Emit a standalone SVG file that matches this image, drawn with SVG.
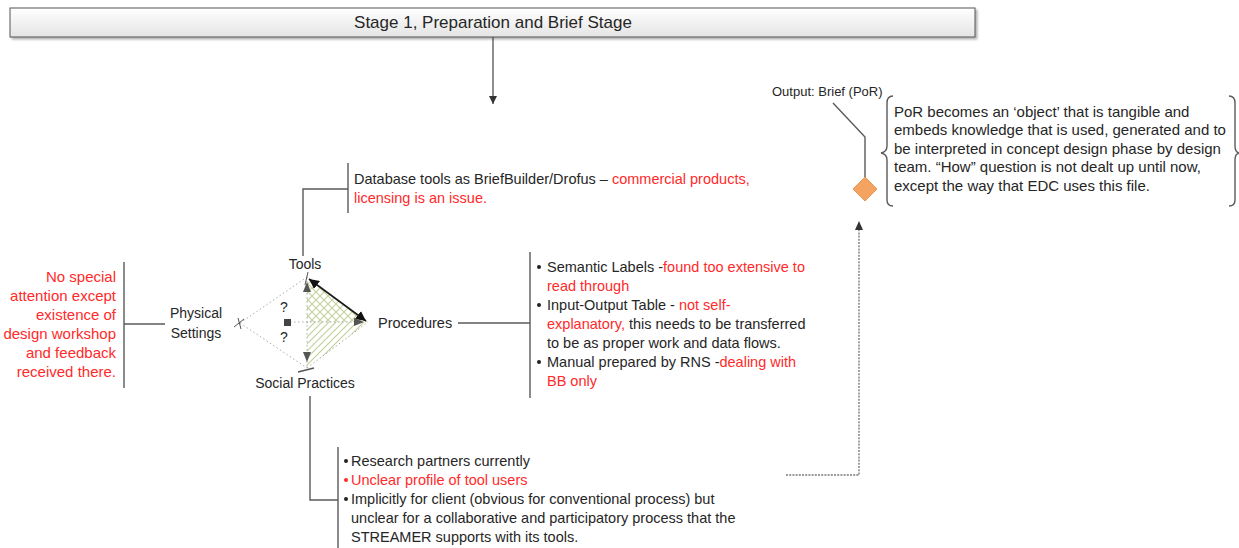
<svg xmlns="http://www.w3.org/2000/svg" width="1239" height="548" viewBox="0 0 1239 548">
<defs>
<linearGradient id="tg" x1="0" y1="0" x2="0" y2="1">
<stop offset="0" stop-color="#ffffff"/>
<stop offset="1" stop-color="#e4e4e4"/>
</linearGradient>
<marker id="ah" viewBox="0 0 10 10" refX="10" refY="5" markerWidth="8" markerHeight="8" markerUnits="userSpaceOnUse" orient="auto">
<path d="M0,0 L10,5 L0,10 Z" fill="#333"/>
</marker>
<marker id="ahb" viewBox="0 0 10 10" refX="10" refY="5" markerWidth="10" markerHeight="10" markerUnits="userSpaceOnUse" orient="auto-start-reverse">
<path d="M0,0 L10,5 L0,10 Z" fill="#111"/>
</marker>
<pattern id="cross" patternUnits="userSpaceOnUse" width="8" height="8">
<path d="M0,0 L8,8 M8,0 L0,8" stroke="#c2d19a" stroke-width="1.1"/>
</pattern>
<pattern id="diag" patternUnits="userSpaceOnUse" width="7" height="7">
<path d="M-1,8 L8,-1 M-1,1 L1,-1 M6,8 L8,6" stroke="#c2d19a" stroke-width="1.2"/>
</pattern>
<filter id="sh" x="-5%" y="-30%" width="110%" height="160%">
<feDropShadow dx="2" dy="2" stdDeviation="1" flood-color="#000" flood-opacity="0.3"/>
</filter>
</defs>
<style>
text{font-family:"Liberation Sans",Arial,sans-serif;fill:#262626;font-size:14.5px}
.red{fill:#ff2a2a}
.big{font-size:15px}
.lbl{font-size:14px}
.ln{stroke:#5a5a5a;stroke-width:1.4;fill:none}
.dot{stroke:#aaa;stroke-width:1;stroke-dasharray:1.5,2.5;fill:none}
</style>

<g id="title">
<rect x="10" y="8" width="965" height="29" fill="url(#tg)" stroke="#555" stroke-width="1" filter="url(#sh)"/>
<text x="493" y="28" text-anchor="middle" style="font-size:17px">Stage 1, Preparation and Brief Stage</text>
</g>

<g id="connectors">
<line x1="493" y1="37" x2="493" y2="104" stroke="#444" stroke-width="1.2" marker-end="url(#ah)"/>
<polyline class="ln" points="303,256 303,189 348,189"/>
<line class="ln" x1="348" y1="163" x2="348" y2="213"/>
<line class="ln" x1="124" y1="324" x2="165" y2="324"/>
<line class="ln" x1="124" y1="262" x2="124" y2="388"/>
<line class="ln" x1="458" y1="323" x2="530" y2="323"/>
<line class="ln" x1="530" y1="252" x2="530" y2="398"/>
<polyline class="ln" points="310,396 310,500 338,500"/>
<line class="ln" x1="338" y1="447" x2="338" y2="548"/>
<polyline class="ln" points="833,103 865,137 865,177" stroke-width="1.1"/>
<polyline points="786,475 859,475 859,226" fill="none" stroke="#999" stroke-width="1.8" stroke-dasharray="2,1.2"/>
<path d="M855,230 L859,221 L863,230 Z" fill="#333"/>
</g>

<g id="diamond">
<polygon points="307,277 368,322 307,322" fill="url(#cross)"/>
<polygon points="307,322 368,322 307,368" fill="url(#diag)"/>
<line class="dot" x1="240" y1="323" x2="307" y2="277"/>
<line class="dot" x1="240" y1="323" x2="307" y2="368"/>
<line class="dot" x1="307" y1="277" x2="307" y2="368"/>
<line class="dot" x1="290" y1="322" x2="355" y2="322"/>
<line class="dot" x1="307" y1="368" x2="368" y2="322"/>
<line x1="366" y1="321" x2="309" y2="279" stroke="#1a1a1a" stroke-width="1.6" marker-start="url(#ahb)" marker-end="url(#ahb)"/>
<path d="M307,282 L311,292 L303,292 Z" fill="#555"/>
<path d="M364,322 L354,318 L354,326 Z" fill="#555"/>
<path d="M307,362 L303,352 L311,352 Z" fill="#555"/>
<rect x="284" y="319" width="7" height="7" fill="#444"/>
<line x1="305" y1="285" x2="308" y2="272" stroke="#555" stroke-width="1"/>
<line x1="298" y1="372" x2="314" y2="368" stroke="#555" stroke-width="1.4"/>
<line x1="234" y1="327" x2="244" y2="319" stroke="#555" stroke-width="1"/>
<line x1="238" y1="318" x2="241" y2="329" stroke="#555" stroke-width="1"/>
<text class="lbl" x="284" y="312" text-anchor="middle">?</text>
<text class="lbl" x="284" y="342" text-anchor="middle">?</text>
</g>

<g id="tools">
<text class="lbl" x="305" y="269" text-anchor="middle">Tools</text>
</g>
<g id="procedures">
<text x="378" y="328">Procedures</text>
</g>
<g id="social">
<text class="lbl" x="305" y="388" text-anchor="middle">Social Practices</text>
</g>
<g id="physical">
<text class="lbl" x="196" y="318" text-anchor="middle">Physical</text>
<text class="lbl" x="196" y="338" text-anchor="middle">Settings</text>
</g>

<g id="physical-note">
<text class="red big" x="116" y="282" text-anchor="end">No special</text>
<text class="red big" x="116" y="301" text-anchor="end">attention except</text>
<text class="red big" x="116" y="320" text-anchor="end">existence of</text>
<text class="red big" x="116" y="339" text-anchor="end">design workshop</text>
<text class="red big" x="116" y="358" text-anchor="end">and feedback</text>
<text class="red big" x="116" y="377" text-anchor="end">received there.</text>
</g>

<g id="tools-note">
<text x="354" y="184">Database tools as BriefBuilder/Drofus – <tspan class="red">commercial products,</tspan></text>
<text class="red" x="354" y="203">licensing is an issue.</text>
</g>

<g id="procedures-note">
<circle cx="539" cy="267" r="2" fill="#222"/>
<text x="547" y="272">Semantic Labels -<tspan class="red">found too extensive to</tspan></text>
<text class="red" x="547" y="291">read through</text>
<circle cx="539" cy="305" r="2" fill="#222"/>
<text x="547" y="310">Input-Output Table - <tspan class="red">not self-</tspan></text>
<text x="547" y="329"><tspan class="red">explanatory,</tspan> this needs to be transferred</text>
<text x="547" y="348">to be as proper work and data flows.</text>
<circle cx="539" cy="362" r="2" fill="#222"/>
<text x="547" y="367">Manual prepared by RNS  -<tspan class="red">dealing with</tspan></text>
<text class="red" x="547" y="386">BB only</text>
</g>

<g id="social-note">
<circle cx="346" cy="461" r="2" fill="#222"/>
<text x="351" y="466">Research partners currently</text>
<circle cx="346" cy="480" r="2" fill="#ff2a2a"/>
<text class="red" x="351" y="485">Unclear profile of tool users</text>
<circle cx="346" cy="499" r="2" fill="#222"/>
<text x="351" y="504">Implicitly for client (obvious for conventional process) but</text>
<text x="351" y="523">unclear for a collaborative and participatory process that the</text>
<text x="351" y="542">STREAMER supports with its tools.</text>
</g>

<g id="output">
<text x="772" y="96" style="font-size:13px">Output: Brief (PoR)</text>
<polygon points="865,177 877,189 865,201 853,189" fill="#f4a460" stroke="#e08a40" stroke-width="0.8"/>
</g>

<g id="brief-note">
<path class="ln" stroke-width="1.1" d="M893,96 Q887,96 887,103 L887,146 Q887,152 881,153 Q887,154 887,160 L887,200 Q887,206 893,206"/>
<path class="ln" stroke-width="1.1" d="M1229,96 Q1235,96 1235,103 L1235,146 Q1235,152 1239,153 Q1235,154 1235,160 L1235,200 Q1235,206 1229,206"/>
<text class="big" x="894" y="117">PoR becomes an ‘object’ that is tangible and</text>
<text class="big" x="894" y="135">embeds knowledge that is used, generated and to</text>
<text class="big" x="894" y="154">be interpreted in concept design phase by design</text>
<text class="big" x="894" y="172">team. “How” question is not dealt up until now,</text>
<text class="big" x="894" y="191">except the way that EDC uses this file.</text>
</g>
</svg>
